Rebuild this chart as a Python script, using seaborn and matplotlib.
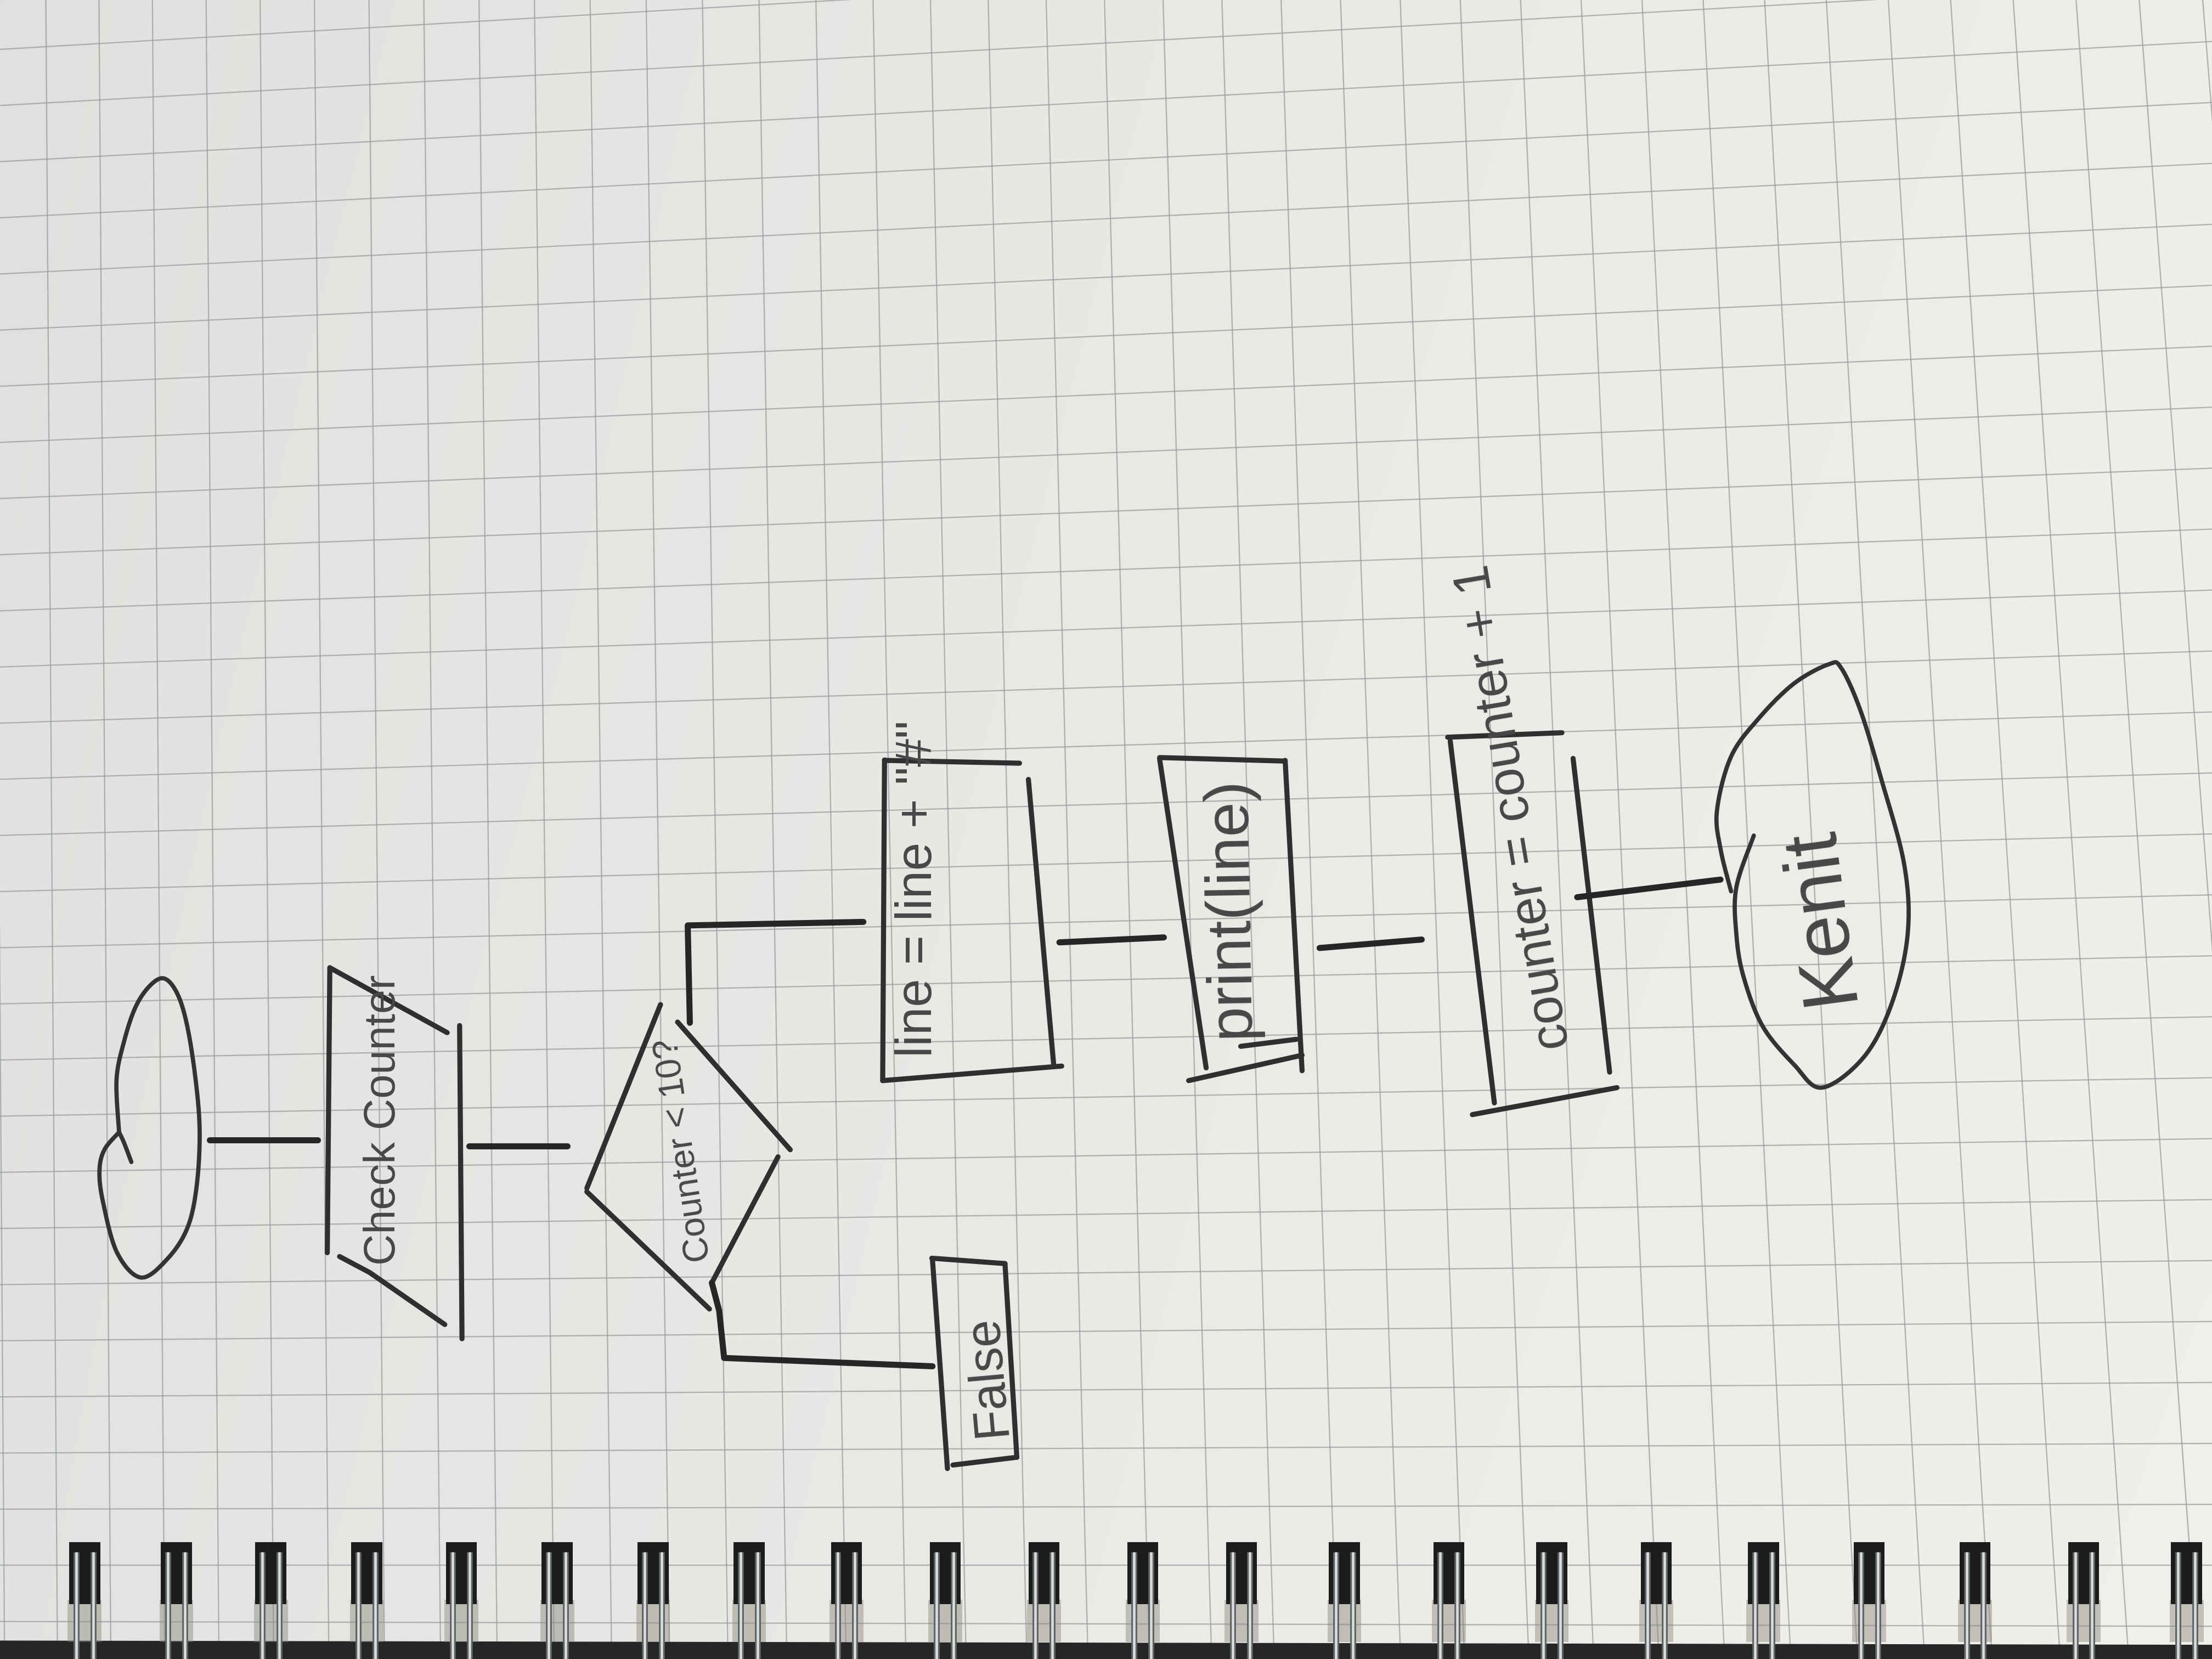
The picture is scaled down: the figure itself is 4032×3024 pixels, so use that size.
import numpy as np
import matplotlib
matplotlib.use("Agg")
import matplotlib.pyplot as plt
from matplotlib.collections import LineCollection
from matplotlib.patches import Rectangle
import pandas as pd
import seaborn as sns

sns.set_theme(style="white")
plt.rcParams['font.family'] = ['Liberation Sans Narrow', 'Liberation Sans', 'DejaVu Sans']

# ---------------- content of the hand-drawn flowchart ----------------
labels = ["Check Counter", "Counter < 10?", 'line = line + "#"', "print(line)",
          "counter = counter + 1", "Kenit", "False"]

# layout of the labels (photo units, 1568 x 1176 frame)
label_x = [272, 485, 651, 872, 1074, 1290, 700]
label_y = [794, 815, 630, 643, 572, 648, 975]
label_len = [206, 160, 239, 185, 348, 126, 86]
label_rot = [90, 98.5, 90, 91, 99.6, 97.6, 95]

# start terminal (left oval)
start_oval = [(84.4, 802.6), (82.6, 765.4), (88, 738), (96, 714), (106, 699), (116, 693.5),
              (125, 703), (132, 724), (138, 760), (141.5, 800), (139.5, 840), (133, 870),
              (119, 892), (100, 905.6), (83, 888), (73, 852), (70.5, 830), (74, 815),
              (84.4, 802.6)]
start_hook = [(84.4, 802.6), (87.9, 810), (93.1, 823.7)]

# end terminal (right oval)
end_oval = [(1243.2, 592.3), (1230.8, 629.1), (1230.8, 661.9), (1235.8, 691.9), (1249.4, 727.3),
            (1271.7, 754.6), (1291.5, 771), (1321.3, 749.2), (1341.1, 711), (1352.3, 661.9),
            (1349.8, 612.7), (1333.7, 552.7), (1318.8, 503.6), (1305.2, 473.6), (1296.5, 470.8),
            (1271.7, 484.5), (1246.9, 509), (1227.1, 536.3), (1217.1, 574.5), (1219.6, 601.8),
            (1227.1, 631.8)]

# box outlines (each a polyline)
box_strokes = [
    # Check Counter parallelogram
    [(233.8, 686), (232, 888)],
    [(233.8, 686), (317, 732)],
    [(325.8, 727), (327.5, 949)],
    [(240.7, 890.7), (262, 902), (315.3, 938.9)],
    # decision diamond
    [(468.2, 712.1), (416, 842.3)],
    [(416, 844.8), (502.9, 927.9)],
    [(480.3, 724.5), (560.2, 815)],
    [(551.5, 820), (504.6, 909.3)],
    # line = line + "#"
    [(627, 538.7), (625.7, 766)],
    [(627, 539), (722.7, 541)],
    [(729, 552.5), (747, 755.7)],
    [(625.7, 766), (752.6, 755.7)],
    # print(line)
    [(822, 537), (911, 539.5)],
    [(822, 538), (855, 757)],
    [(911, 539), (923, 759)],
    [(842.6, 766), (923, 748)],
    [(879.5, 741.7), (919, 736.7)],
    # counter = counter + 1
    [(1026.2, 522.6), (1107.2, 519.4)],
    [(1028, 525.3), (1059.3, 781.8)],
    [(1043.7, 790.1), (1146.2, 771)],
    [(1115.1, 537.6), (1141, 760)],
    # False box
    [(660.5, 891.9), (712.4, 895.7)],
    [(661, 893), (671.6, 1041)],
    [(712.4, 895.7), (720.8, 1033)],
    [(675.5, 1038.5), (720.8, 1033)],
]

# connectors
connector_strokes = [
    [(148.6, 808), (225, 808)],
    [(332.6, 812.5), (402, 812.5)],
    [(489, 725), (487.5, 656), (612, 653.5)],
    [(504.6, 909.3), (509.8, 929.2), (513.3, 962.6), (661, 968.5)],
    [(751, 668), (825, 664.5)],
    [(935.4, 672), (1007.8, 666)],
    [(1118, 636), (1219.6, 623.5)],
]

# spiral binding ring centres
rings_x = [60, 125, 192, 260, 327, 395, 463, 531, 600, 670, 740, 810, 880, 953,
           1027, 1100, 1174, 1250, 1325, 1400, 1477, 1550]

W, H = 1568, 1176
U = 4032 / W            # output pixels per photo unit
PT = U * 72 / 100       # points per photo unit


def smooth(pts, n=14):
    pts = np.asarray(pts, float)
    P = np.vstack([pts[0], pts, pts[-1]])
    out = []
    t = np.linspace(0, 1, n, endpoint=False)[:, None]
    for i in range(1, len(P) - 2):
        p0, p1, p2, p3 = P[i - 1], P[i], P[i + 1], P[i + 2]
        out.append(0.5 * ((2 * p1) + (-p0 + p2) * t + (2 * p0 - 5 * p1 + 4 * p2 - p3) * t ** 2
                          + (-p0 + 3 * p1 - 3 * p2 + p3) * t ** 3))
    out.append(P[-2][None, :])
    return np.vstack(out)


def frame(strokes):
    rows = []
    for i, s in enumerate(strokes):
        for j, (x, y) in enumerate(s):
            rows.append((i, j, x, y))
    return pd.DataFrame(rows, columns=["stroke", "order", "x", "y"])


fig = plt.figure(figsize=(40.32, 30.24), dpi=100)
ax = fig.add_axes([0, 0, 1, 1])

# paper background (soft light gradient)
gx = np.linspace(0, 1, 200)[None, :, None]
gy = np.linspace(0, 1, 150)[:, None, None]
left = np.array([223, 225, 222]) / 255
right = np.array([238, 237, 233]) / 255
bg = left + (right - left) * gx ** 0.8 + 0.01 * gy
bg = np.clip(bg, 0, 1)
ax.imshow(bg, extent=(0, W, H, 0), aspect="auto", zorder=0, interpolation="bilinear")

# grid of the squared paper (slight perspective)
segs = []
ys = np.array([0, H])
for j in range(-2, 42):
    xt = 32.5 + 37.57 * j + 0.1014 * j * j
    xb = 40 + 37.65 * j + 0.157 * j * j
    xs = xt + (xb - xt) * ys / 1070
    segs.append(np.column_stack([xs, ys]))
xs = np.array([0, W])
for k in range(-3, 32):
    yl = 35 + 39.8 * k
    d = 92 * (1 - k / 27)
    segs.append(np.column_stack([xs, yl - d * xs / W]))
ax.add_collection(LineCollection(segs, colors="#9a9e9e", linewidths=0.9 * PT, alpha=0.75, zorder=1))

# pencil strokes
pencil = "#2f2f2f"
sns.lineplot(data=frame(box_strokes), x="x", y="y", units="stroke", estimator=None, sort=False,
             color=pencil, lw=3.6 * PT, ax=ax, solid_capstyle="round", zorder=4)
sns.lineplot(data=frame(connector_strokes), x="x", y="y", units="stroke", estimator=None, sort=False,
             color="#262626", lw=4.3 * PT, ax=ax, solid_capstyle="round", zorder=4)
ovals = [smooth(start_oval), smooth(start_hook, 6), smooth(end_oval)]
sns.lineplot(data=frame([list(map(tuple, o)) for o in ovals]), x="x", y="y", units="stroke",
             estimator=None, sort=False, color="#333333", lw=3.0 * PT, ax=ax,
             solid_capstyle="round", zorder=4)

# handwritten labels
fig.canvas.draw()
renderer = fig.canvas.get_renderer()
for txt, x, y, L, r in zip(labels, label_x, label_y, label_len, label_rot):
    probe = ax.text(0, 0, txt, fontsize=100)
    w = probe.get_window_extent(renderer).width
    probe.remove()
    fs = 100 * (L * U) / w
    ax.text(x, y, txt, fontsize=fs, rotation=r, rotation_mode="anchor",
            ha="center", va="center", color="#474747", zorder=5)

# spiral binding at the bottom edge
ax.fill_between([0, W], [1163, 1166], [H, H], color="#262626", zorder=2)
for xr in rings_x:
    ax.add_patch(Rectangle((xr - 12, 1134), 24, 30, color="#8c877c", alpha=0.45, lw=0, zorder=2))
    ax.add_patch(Rectangle((xr - 11, 1093), 22, 44, color="#1c1c1c", lw=0, zorder=3))
    for dx in (-6, 6):
        ax.plot([xr + dx, xr + dx], [1100, H], color="#5f6264", lw=4.2 * PT, zorder=6,
                solid_capstyle="butt")
        ax.plot([xr + dx, xr + dx], [1100, H], color="#d9dcdd", lw=1.8 * PT, zorder=7,
                solid_capstyle="butt")

ax.set_xlim(0, W)
ax.set_ylim(H, 0)
ax.axis("off")
fig.savefig("out.png", dpi=100)
